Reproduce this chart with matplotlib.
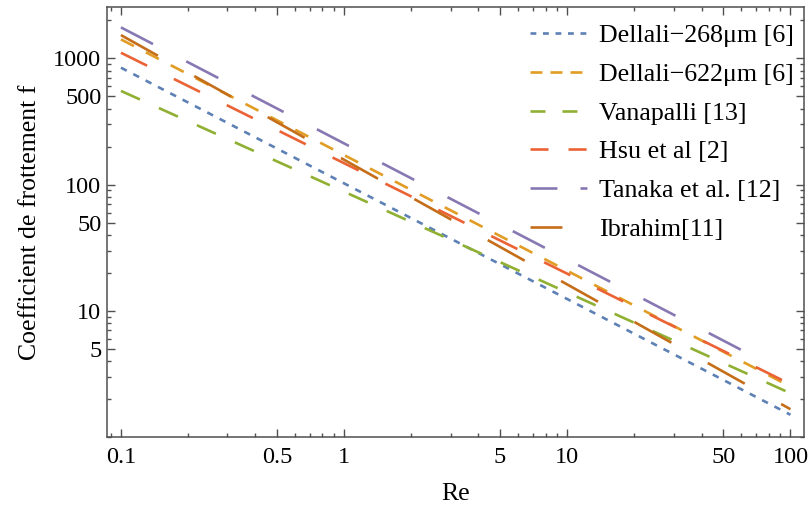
import matplotlib
matplotlib.use("Agg")
import matplotlib.pyplot as plt
from matplotlib.lines import Line2D
from matplotlib.ticker import FixedLocator, NullFormatter, LogLocator

# friction-factor correlations, endpoints (Re, f) of each power law
labels = ["Dellali\u2212268\u03bcm [6]", "Dellali\u2212622\u03bcm [6]", "Vanapalli [13]",
          "Hsu et al [2]", "Tanaka et al. [12]", "Ibrahim[11]"]
re_start = [0.1, 0.1, 0.1, 0.1, 0.1, 0.1]
re_end = [100, 100, 100, 100, 80, 100]
f_start = [843, 1413, 552, 1107, 1758, 1528]
f_end = [1.50, 2.51, 2.22, 2.62, 3.77, 1.66]

colors = ["#5E81B5", "#E19C24", "#8FB032", "#EB6235", "#8778B3", "#C56E1A"]
# dash patterns in points (scale_dashes off)
dashes = [(4.7, 5.3), (10.5, 9.7), (15, 15), (21, 21.5), (26, 27), (30.5, 30)]
legend_dashes = [(4.2, 4.8), (8.6, 5.8), (10.8, 12.2), (13, 14.4),
                 (19.4, 16.6, 5, 20), (23, 30)]

x_major = [0.1, 0.5, 1, 5, 10, 50, 100]
x_ticklabels = ["0.1", "0.5", "1", "5", "10", "50", "100"]
y_major = [5, 10, 50, 100, 500, 1000]
y_ticklabels = ["5", "10", "50", "100", "500", "1000"]

plt.rcParams["font.family"] = ["Liberation Serif", "DejaVu Serif"]
plt.rcParams["lines.scale_dashes"] = False

frame = "#505050"
lw = 1.9
fig = plt.figure(figsize=(8.12, 5.09), dpi=100)
ax = fig.add_axes([107 / 812, 1 - 437 / 509, 697 / 812, 430 / 509])

for i in range(len(labels)):
    ax.plot([re_start[i], re_end[i]], [f_start[i], f_end[i]], color=colors[i],
            lw=lw, linestyle=(0, dashes[i]), solid_capstyle="butt",
            dash_capstyle="butt")

ax.set_xscale("log")
ax.set_yscale("log")
ax.set_xlim(0.0866, 115)
ax.set_ylim(1.0, 2550)

ax.xaxis.set_major_locator(FixedLocator(x_major))
ax.set_xticklabels(x_ticklabels)
ax.xaxis.set_minor_locator(LogLocator(base=10, subs=[2, 3, 4, 6, 7, 8, 9]))
ax.xaxis.set_minor_formatter(NullFormatter())
ax.yaxis.set_major_locator(FixedLocator(y_major))
ax.set_yticklabels(y_ticklabels)
ax.yaxis.set_minor_locator(LogLocator(base=10, subs=[1, 2, 3, 4, 6, 7, 8, 9]))
ax.yaxis.set_minor_formatter(NullFormatter())

ax.tick_params(which="both", direction="in", top=True, right=True,
               color=frame, width=1.0, labelsize=17.5, labelcolor="black")
ax.tick_params(which="major", length=5.5, pad=4)
ax.tick_params(which="minor", length=2.8)
ax.tick_params(axis="x", which="major", pad=7)
for s in ax.spines.values():
    s.set_color(frame)
    s.set_linewidth(1.1)

ax.set_xlabel("Re", fontsize=18.5, labelpad=11)
ax.set_ylabel("Coefficient de frottement f", fontsize=18.5, labelpad=9)

handles = [Line2D([], [], color=colors[i], lw=lw, linestyle=(0, legend_dashes[i]),
                  dash_capstyle="butt") for i in range(len(labels))]
ax.legend(handles, labels, loc="upper left", bbox_to_anchor=(530 / 812, 1 - 24 / 509),
          bbox_transform=fig.transFigure, frameon=False, fontsize=18.7,
          handlelength=2.2, handletextpad=0.45, labelspacing=0.6,
          borderpad=0, borderaxespad=0)

fig.savefig("out.png", dpi=100)
